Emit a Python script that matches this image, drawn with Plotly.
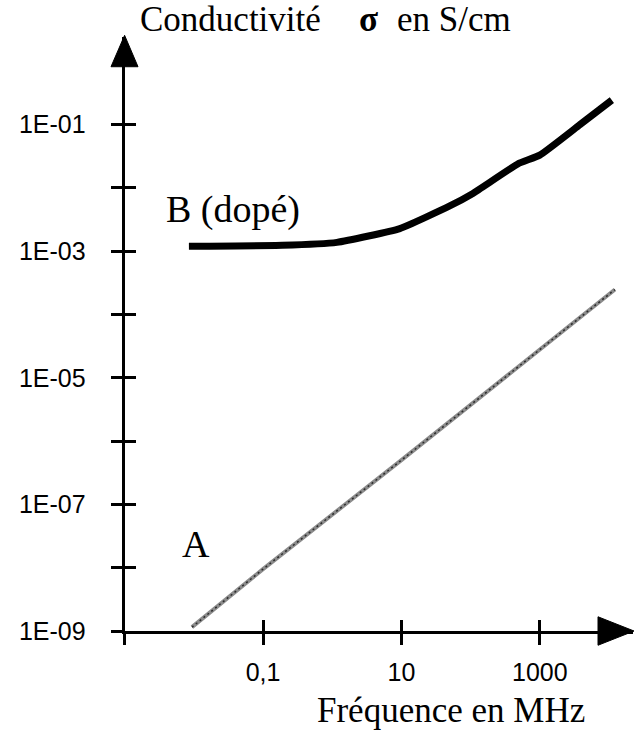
import plotly.graph_objects as go

# Sample A (non dopé): conductivity vs frequency
freq_a = [0.0094, 0.1, 10, 1000, 12200]
sigma_a = [1.15e-9, 9.5e-9, 5.0e-7, 2.8e-5, 2.48e-4]

# Sample B (dopé)
freq_b = [0.0085, 0.19, 1.17, 9.5, 50, 108, 484, 1000, 3800, 11000]
sigma_b = [1.20e-3, 1.24e-3, 1.38e-3, 2.28e-3, 5.2e-3, 8.2e-3, 0.024, 0.033, 0.10, 0.244]

x_tickvals = [0.001, 0.1, 10, 1000]
x_ticktext = ["", "0,1", "10", "1000"]
y_tickvals = [1e-9, 1e-8, 1e-7, 1e-6, 1e-5, 1e-4, 1e-3, 1e-2, 1e-1]
y_ticktext = ["1E-09", "", "1E-07", "", "1E-05", "", "1E-03", "", "1E-01"]

W, H = 635, 751


def PX(px):
    return px / W


def PY(py):
    return 1 - py / H


X_RANGE = [-3, 4.347]
Y_RANGE = [-9, 0.380]
X_DOMAIN = [PX(124.6), PX(633)]
Y_DOMAIN = [PY(643), PY(38)]

fig = go.Figure()

# curve A: grey line with a darker speckled core
fig.add_trace(go.Scatter(
    x=freq_a, y=sigma_a, mode="lines",
    line=dict(color="#8c8c8c", width=4),
    hoverinfo="skip", showlegend=False,
))
fig.add_trace(go.Scatter(
    x=freq_a, y=sigma_a, mode="lines",
    line=dict(color="#2a2a2a", width=1.5, dash="2px,3px"),
    hoverinfo="skip", showlegend=False,
))
# curve B: thick black line
fig.add_trace(go.Scatter(
    x=freq_b, y=sigma_b, mode="lines",
    line=dict(color="black", width=7, shape="spline", smoothing=0.4),
    hoverinfo="skip", showlegend=False,
))
# invisible trace so the overlay axes (inner half of the cross ticks) render
fig.add_trace(go.Scatter(
    x=[0.01], y=[1e-5], xaxis="x2", yaxis="y2", mode="markers",
    marker=dict(opacity=0), hoverinfo="skip", showlegend=False,
))

tick_font = dict(family="Liberation Sans, Arial, sans-serif", size=25, color="black")

fig.update_layout(
    width=W, height=H,
    margin=dict(l=0, r=0, t=0, b=0),
    paper_bgcolor="white", plot_bgcolor="white",
    xaxis=dict(
        type="log", range=X_RANGE, domain=X_DOMAIN,
        tickvals=x_tickvals, ticktext=x_ticktext,
        ticks="outside", ticklen=11, tickwidth=3, tickcolor="black",
        tickfont=tick_font, ticklabelstandoff=6,
        showline=True, linecolor="black", linewidth=3,
        showgrid=False, zeroline=False, anchor="y",
    ),
    yaxis=dict(
        type="log", range=Y_RANGE, domain=Y_DOMAIN,
        tickvals=y_tickvals, ticktext=y_ticktext,
        ticks="outside", ticklen=11, tickwidth=3, tickcolor="black",
        tickfont=tick_font, ticklabelstandoff=20,
        showline=True, linecolor="black", linewidth=3,
        showgrid=False, zeroline=False, anchor="x",
    ),
    xaxis2=dict(
        type="log", range=X_RANGE, overlaying="x", anchor="y2", side="bottom",
        tickvals=x_tickvals, ticks="inside", ticklen=11, tickwidth=3,
        tickcolor="black", showticklabels=False, showline=False,
        showgrid=False, zeroline=False,
    ),
    yaxis2=dict(
        type="log", range=Y_RANGE, overlaying="y", anchor="x2", side="left",
        tickvals=y_tickvals, ticks="inside", ticklen=11, tickwidth=3,
        tickcolor="black", showticklabels=False, showline=False,
        showgrid=False, zeroline=False,
    ),
)

# arrow heads at the ends of both axes
fig.add_shape(
    type="path", xref="paper", yref="paper",
    path=f"M {PX(124.6)},{PY(36)} L {PX(111)},{PY(68)} L {PX(138)},{PY(68)} Z",
    fillcolor="black", line=dict(color="black", width=1),
)
fig.add_shape(
    type="path", xref="paper", yref="paper",
    path=f"M {PX(634)},{PY(643)} L {PX(598)},{PY(628.5)} L {PX(598)},{PY(657.5)} Z",
    fillcolor="black", line=dict(color="black", width=1),
)

serif = "Liberation Serif, Times New Roman, serif"

fig.add_annotation(x=PX(138), y=PY(20), xref="paper", yref="paper",
                   text="Conductivité", showarrow=False, xanchor="left", yanchor="middle",
                   font=dict(family=serif, size=35, color="black"))
fig.add_annotation(x=PX(368), y=PY(20), xref="paper", yref="paper",
                   text="<b>σ</b>", showarrow=False, xanchor="center", yanchor="middle",
                   font=dict(family=serif, size=35, color="black"))
fig.add_annotation(x=PX(395), y=PY(20), xref="paper", yref="paper",
                   text="en S/cm", showarrow=False, xanchor="left", yanchor="middle",
                   font=dict(family=serif, size=35, color="black"))
fig.add_annotation(x=PX(451), y=PY(724), xref="paper", yref="paper",
                   text="Fréquence en MHz", showarrow=False, xanchor="center", yanchor="middle",
                   font=dict(family=serif, size=35, color="black"))
fig.add_annotation(x=PX(164), y=PY(213), xref="paper", yref="paper",
                   text="B (dopé)", showarrow=False, xanchor="left", yanchor="middle",
                   font=dict(family=serif, size=38, color="black"))
fig.add_annotation(x=PX(196), y=PY(554), xref="paper", yref="paper",
                   text="A", showarrow=False, xanchor="center", yanchor="middle",
                   font=dict(family=serif, size=38, color="black"))

fig.write_html("out.html")
